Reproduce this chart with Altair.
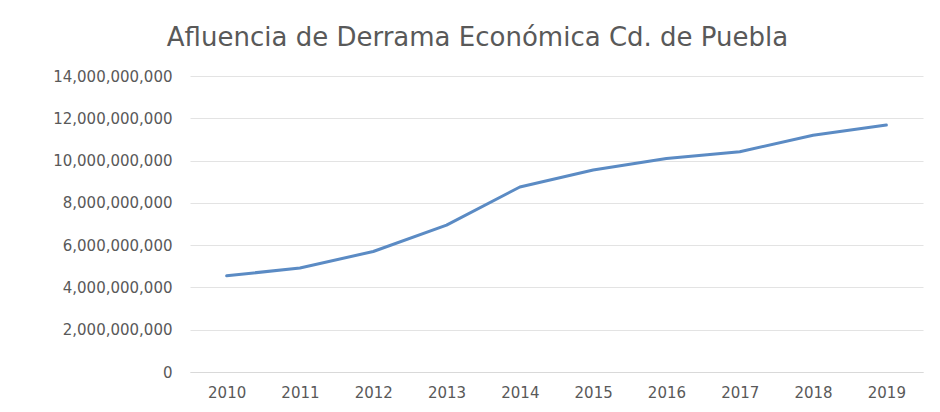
import altair as alt
import pandas as pd

years = ["2010", "2011", "2012", "2013", "2014", "2015", "2016", "2017", "2018", "2019"]
derrama = [4.55e9, 4.92e9, 5.70e9, 6.95e9, 8.75e9, 9.55e9, 10.10e9, 10.42e9, 11.20e9, 11.68e9]
y_ticks = [0, 2e9, 4e9, 6e9, 8e9, 10e9, 12e9, 14e9]
title_text = "Afluencia de Derrama Económica Cd. de Puebla"

df = pd.DataFrame({"year": years, "value": derrama})

FONT = "DejaVu Sans"
GRAY = "#595959"

line = alt.Chart(df).mark_line(
    color="#5B8BC4", strokeWidth=3, interpolate="linear", strokeCap="round", strokeJoin="round"
).encode(
    x=alt.X("year:O", sort=years, title=None,
            axis=alt.Axis(labelAngle=0, ticks=False, grid=False, domain=True,
                          domainColor="#d9d9d9", labelPadding=13,
                          labelFont=FONT, labelFontSize=15, labelColor=GRAY)),
    y=alt.Y("value:Q", title=None,
            scale=alt.Scale(domain=[0, 14e9], nice=False),
            axis=alt.Axis(values=y_ticks, format=",.0f", ticks=False, domain=False,
                          grid=True, gridColor="#e3e3e3", labelPadding=18,
                          labelFont=FONT, labelFontSize=15, labelColor=GRAY)),
)

chart = line.properties(
    width=733,
    height=296,
    background="white",
    title=alt.TitleParams(title_text, font=FONT, fontSize=26, fontWeight="normal",
                          color=GRAY, anchor="middle", baseline="alphabetic",
                          frame="group", offset=-3, dx=-79),
    autosize=alt.AutoSizeParams(type="none"),
    padding={"left": 182, "top": 68, "right": 8, "bottom": 30},
).configure_view(strokeWidth=0, stroke="transparent")

chart.save("out.html", embed_options={"renderer": "svg", "actions": False})
